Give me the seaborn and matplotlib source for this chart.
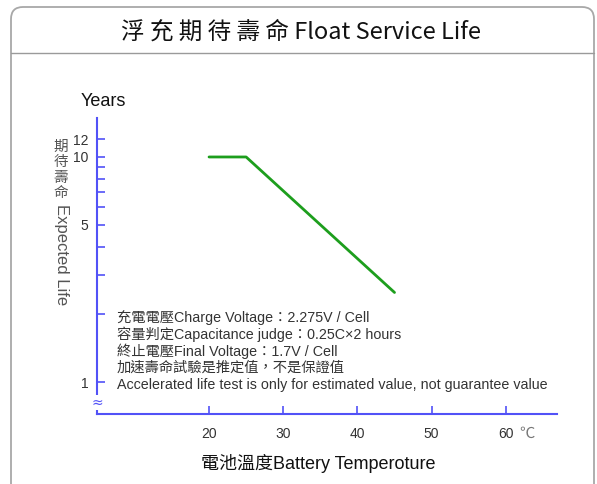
import matplotlib
matplotlib.use("Agg")
import matplotlib.pyplot as plt
import seaborn as sns
import pandas as pd
from matplotlib.patches import FancyBboxPatch
from matplotlib.lines import Line2D
from matplotlib.ticker import FixedLocator, NullFormatter, FixedFormatter

# ---- data ----
temperature = [20, 25, 45]
life_years = [10, 10, 2.5]
x_ticks = [20, 30, 40, 50, 60]
y_major = [1, 5, 10, 12]
y_major_labels = ["1", "5", "10", "12"]
y_minor = [2, 3, 4, 6, 7, 8, 9]
title = "浮 充 期 待 壽 命 Float Service Life"
ylabel_cjk = ["期", "待", "壽", "命"]
ylabel_en = "Expected Life"
xlabel = "電池溫度Battery Temperoture"
notes = [
    "充電電壓Charge Voltage：2.275V / Cell",
    "容量判定Capacitance judge：0.25C×2 hours",
    "終止電壓Final Voltage：1.7V / Cell",
    "加速壽命試驗是推定值，不是保證值",
    "Accelerated life test is only for estimated value, not guarantee value",
]

sns.set_style("white")
plt.rcParams['font.family'] = ['Liberation Sans', 'Noto Sans CJK TC']

BLUE = '#5252f7'
GREEN = '#1d9e1d'
TXT = '#333333'

W, H = 597, 484
fig = plt.figure(figsize=(W / 100, H / 100), dpi=100)
fig.patch.set_facecolor('white')

# frame
box = FancyBboxPatch((0.11, -0.5), 5.83, 5.27, boxstyle="round,pad=0,rounding_size=0.12",
                     transform=fig.dpi_scale_trans, facecolor='none', edgecolor='#a8a8a8',
                     linewidth=1.3, zorder=-1)
fig.patches.append(box)
fig.lines.append(Line2D([0.11, 5.94], [4.31, 4.31], transform=fig.dpi_scale_trans,
                        color='#9a9a9a', lw=1.0))
fig.text(301 / W, 1 - 32 / H, title, ha='center', va='center', fontsize=17,
         color='#111111', family=['Noto Sans CJK TC'], fontweight='medium')

ax = fig.add_axes([97 / W, 1 - 414 / H, 460 / W, 296 / H])
ax.patch.set_alpha(0)
df = pd.DataFrame({'Temperature': temperature, 'Life': life_years})
sns.lineplot(data=df, x='Temperature', y='Life', ax=ax, color=GREEN, lw=2.0,
             sort=False, estimator=None)
ax.set_yscale('log')
ax.set_xlim(4.9, 66.9)
ax.set_ylim(0.721, 14.9)
ax.set_xlabel('')
ax.set_ylabel('')

for s in ['top', 'right']:
    ax.spines[s].set_visible(False)
for s in ['left', 'bottom']:
    ax.spines[s].set_color(BLUE)
    ax.spines[s].set_linewidth(1.5)

ax.xaxis.set_major_locator(FixedLocator(x_ticks))
ax.xaxis.set_minor_locator(FixedLocator([]))
ax.yaxis.set_major_locator(FixedLocator(y_major))
ax.yaxis.set_major_formatter(FixedFormatter(y_major_labels))
ax.yaxis.set_minor_locator(FixedLocator(y_minor))
ax.yaxis.set_minor_formatter(NullFormatter())
ax.tick_params(axis='both', which='both', direction='in', color=BLUE, width=1.2,
               labelcolor=TXT, labelsize=10, bottom=True, left=True, top=False, right=False)
ax.tick_params(axis='x', which='major', length=6, pad=9)
ax.tick_params(axis='y', which='major', length=6, pad=6)
ax.tick_params(axis='y', which='minor', length=6)

# axis break mark
ax.text(0, 0.81, "≈", transform=ax.get_yaxis_transform(), ha='center', va='center',
        color=BLUE, fontsize=10, family=['DejaVu Sans'],
        bbox=dict(facecolor='white', edgecolor='none', pad=0.5), clip_on=False)

# celsius sign
fig.text(527 / W, 1 - 433 / H, "℃", ha='center', va='center', fontsize=11,
         color='#777777', family=['Noto Sans CJK TC'])

# Years label
fig.text(103 / W, 1 - 101 / H, "Years", ha='center', va='center', fontsize=13, color='#111111')

# vertical y label
for i, ch in enumerate(ylabel_cjk):
    fig.text(61 / W, 1 - (147 + 15.3 * i) / H, ch, ha='center', va='center', fontsize=10.5,
             color='#555555', family=['Noto Sans CJK TC'])
fig.text(61 / W, 1 - 255 / H, ylabel_en, ha='center', va='center', rotation=-90,
         fontsize=12, color='#555555')

# notes
for i, line in enumerate(notes):
    fig.text(117 / W, 1 - (318 + 16.7 * i) / H, line, ha='left', va='center', fontsize=10.3,
             color=TXT)

# x label
fig.text(318 / W, 1 - 463 / H, xlabel, ha='center', va='center', fontsize=13, color='#111111')

fig.savefig('out.png', dpi=100)
